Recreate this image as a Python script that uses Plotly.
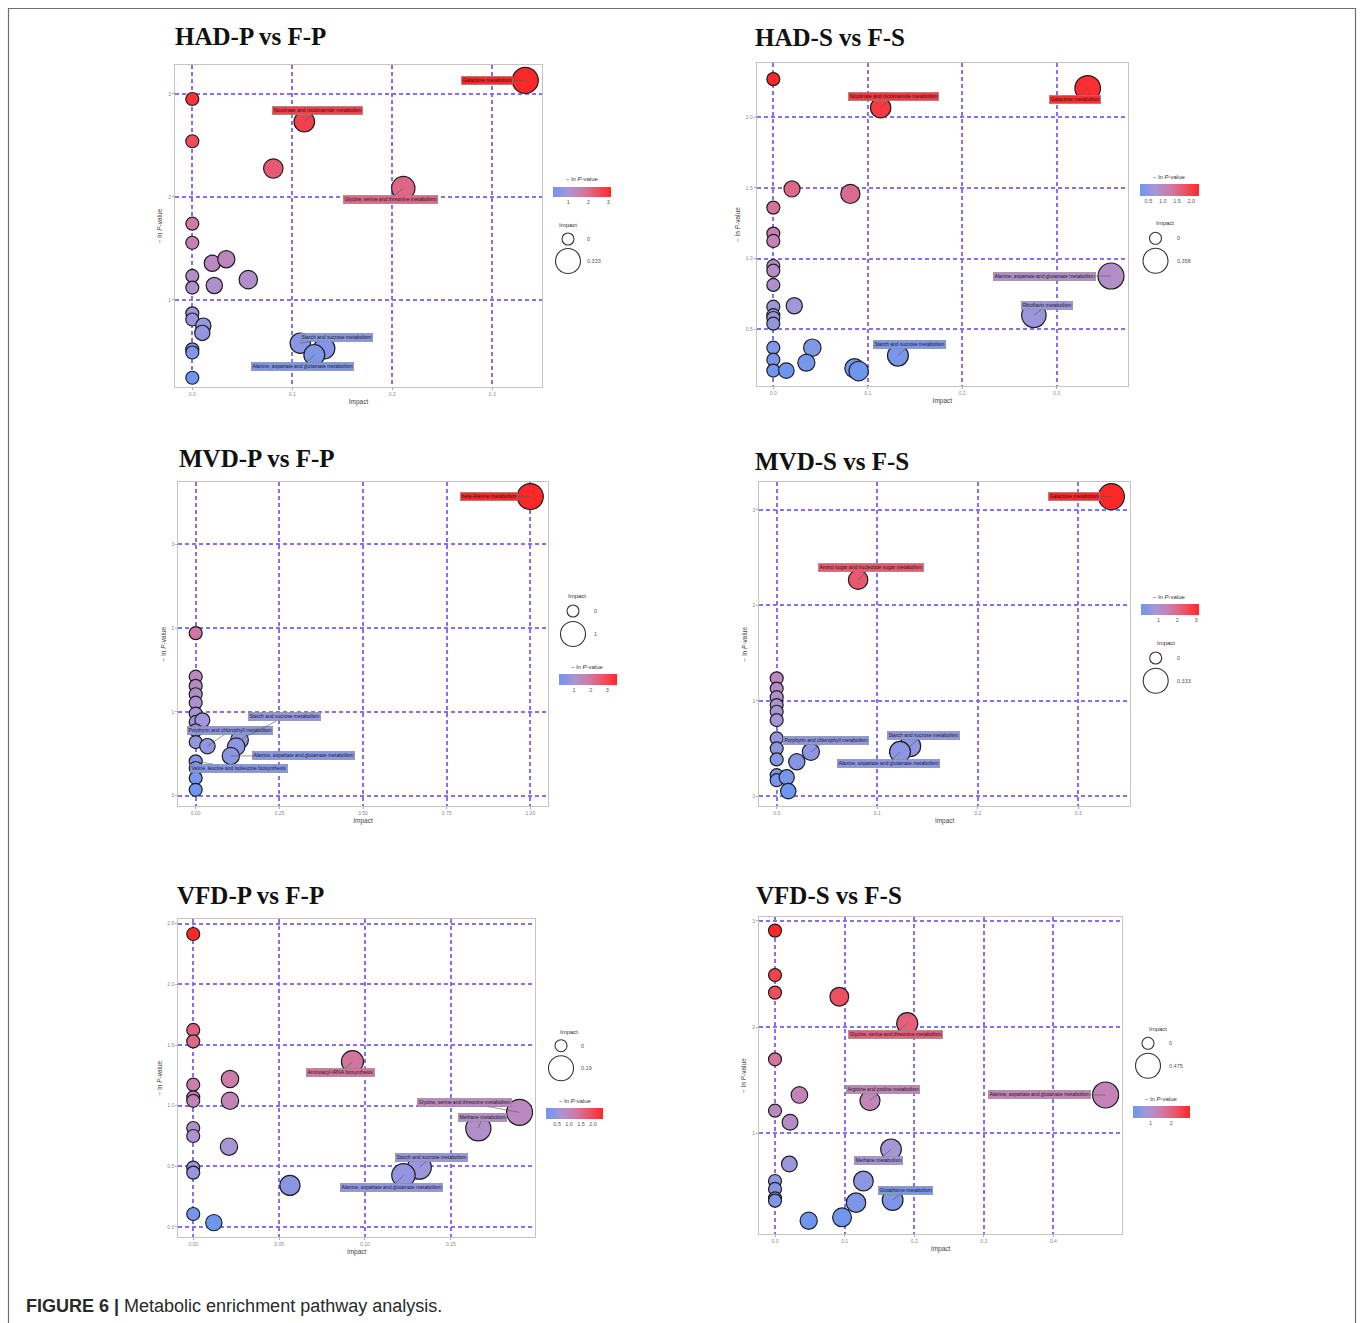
import plotly.graph_objects as go

W, H = 1360, 1323

# ---------------- data ----------------
# HAD-P vs F-P
had_p_impact = [0, 0, 0.081, 0.112, 0.333, 0.211, 0, 0, 0.020, 0.034, 0.056, 0, 0, 0.022,
                0, 0, 0.011, 0.010, 0, 0, 0, 0.108, 0.132, 0.122]
had_p_lnp = [2.95, 2.54, 2.275, 2.73, 3.13, 2.085, 1.74, 1.555, 1.356, 1.395, 1.197, 1.233, 1.12, 1.14,
             0.87, 0.81, 0.75, 0.68, 0.52, 0.49, 0.245, 0.58, 0.53, 0.466]
had_p_label = ['', '', '', 'Nicotinate and nicotinamide metabolism', 'Galactose metabolism',
               'Glycine, serine and threonine metabolism', '', '', '', '', '', '', '', '',
               '', '', '', '', '', '', '', 'Starch and sucrose metabolism', '',
               'Alanine, aspartate and glutamate metabolism']

# HAD-S vs F-S
had_s_impact = [0, 0.1137, 0.333, 0.0198, 0.0816, 0, 0, 0, 0, 0, 0, 0, 0, 0, 0, 0.0222, 0.3577,
                0.276, 0, 0, 0, 0.0138, 0.0413, 0.035, 0.086, 0.0904, 0.132]
had_s_lnp = [2.27, 2.068, 2.205, 1.493, 1.458, 1.361, 1.177, 1.125, 0.948, 0.915, 0.814, 0.66, 0.60,
             0.58, 0.54, 0.667, 0.877, 0.599, 0.37, 0.285, 0.208, 0.208, 0.37, 0.264, 0.224, 0.205, 0.314]
had_s_label = ['', 'Nicotinate and nicotinamide metabolism', 'Galactose metabolism', '', '', '', '', '',
               '', '', '', '', '', '', '', '', 'Alanine, aspartate and glutamate metabolism',
               'Riboflavin metabolism', '', '', '', '', '', '', '', '', 'Starch and sucrose metabolism']

# MVD-P vs F-P
mvd_p_impact = [1.0, 0, 0, 0, 0, 0, 0, 0, 0.02, 0, 0, 0.035, 0.131, 0.121, 0.105, 0, 0, 0, 0]
mvd_p_lnp = [3.57, 1.94, 1.42, 1.31, 1.21, 1.11, 0.98, 0.88, 0.90, 0.78, 0.64, 0.59, 0.665, 0.585,
             0.474, 0.41, 0.33, 0.21, 0.07]
mvd_p_label = ['beta-Alanine metabolism', '', '', '', '', '', '', '', '', '', '',
               'Porphyrin and chlorophyll metabolism', 'Starch and sucrose metabolism', '',
               'Alanine, aspartate and glutamate metabolism', 'Valine, leucine and isoleucine biosynthesis',
               '', '', '']

# MVD-S vs F-S
mvd_s_impact = [0.333, 0.081, 0, 0, 0, 0, 0, 0, 0, 0, 0, 0.034, 0.02, 0, 0, 0.01, 0.0115, 0.1327, 0.1227]
mvd_s_lnp = [3.14, 2.27, 1.237, 1.13, 1.04, 0.957, 0.887, 0.80, 0.608, 0.503, 0.388, 0.467, 0.363,
             0.223, 0.17, 0.2, 0.056, 0.527, 0.467]
mvd_s_label = ['Galactose metabolism', 'Amino sugar and nucleotide sugar metabolism', '', '', '', '', '',
               '', '', '', '', 'Porphyrin and chlorophyll metabolism', '', '', '', '', '',
               'Starch and sucrose metabolism', 'Alanine, aspartate and glutamate metabolism']

# VFD-P vs F-P
vfd_p_impact = [0, 0, 0, 0, 0, 0, 0, 0, 0, 0, 0, 0.012, 0.0214, 0.0214, 0.0208, 0.0563, 0.0927, 0.19,
                0.166, 0.1317, 0.1224]
vfd_p_lnp = [2.415, 1.624, 1.53, 1.173, 1.069, 1.04, 0.816, 0.75, 0.49, 0.448, 0.107, 0.036, 1.22, 1.04,
             0.662, 0.343, 1.363, 0.945, 0.813, 0.492, 0.426]
vfd_p_label = ['', '', '', '', '', '', '', '', '', '', '', '', '', '', '', '',
               'Aminoacyl-tRNA biosynthesis', 'Glycine, serine and threonine metabolism',
               'Methane metabolism', 'Starch and sucrose metabolism',
               'Alanine, aspartate and glutamate metabolism']

# VFD-S vs F-S
vfd_s_impact = [0, 0, 0, 0.0924, 0.19, 0, 0.035, 0.1365, 0.475, 0, 0.0216, 0.1667, 0.0206, 0, 0, 0, 0,
                0.127, 0.169, 0.1164, 0.0484, 0.0963]
vfd_s_lnp = [2.909, 2.49, 2.325, 2.287, 2.036, 1.697, 1.361, 1.308, 1.361, 1.213, 1.104, 0.849, 0.711,
             0.551, 0.476, 0.388, 0.366, 0.551, 0.372, 0.347, 0.177, 0.209]
vfd_s_label = ['', '', '', '', 'Glycine, serine and threonine metabolism', '', '',
               'Arginine and proline metabolism', 'Alanine, aspartate and glutamate metabolism', '', '',
               'Methane metabolism', '', '', '', '', '', '', 'Glutathione metabolism', '', '', '']

titles = ['HAD-P vs F-P', 'HAD-S vs F-S', 'MVD-P vs F-P', 'MVD-S vs F-S', 'VFD-P vs F-P', 'VFD-S vs F-S']

# ---------------- style ----------------
CS_STOPS = [0.0, 0.25, 0.5, 0.75, 1.0]
CS_RGB = [(110, 150, 238), (166, 150, 215), (205, 124, 170), (236, 84, 104), (255, 40, 40)]
COLORSCALE = [[s, 'rgb(%d,%d,%d)' % c] for s, c in zip(CS_STOPS, CS_RGB)]
GRID = 'rgb(130,112,246)'
SMIN, SRANGE = 13, 13


def color_at(t):
    t = min(max(t, 0.0), 1.0)
    for i in range(len(CS_STOPS) - 1):
        if t <= CS_STOPS[i + 1]:
            f = (t - CS_STOPS[i]) / (CS_STOPS[i + 1] - CS_STOPS[i])
            a, b = CS_RGB[i], CS_RGB[i + 1]
            return 'rgb(%d,%d,%d)' % tuple(round(a[k] + (b[k] - a[k]) * f) for k in range(3))
    return 'rgb(%d,%d,%d)' % CS_RGB[-1]


def fx(p):
    return p / W


def fy(p):
    return 1 - p / H


panels = [
    dict(imp=had_p_impact, val=had_p_lnp, lab=had_p_label, box=(175, 542, 65, 387),
         xr=[-0.0173, 0.3497], yr=[0.155, 3.28], xt=[0, 0.1, 0.2, 0.3], xf='.1f', yt=[1, 2, 3], yf='d',
         cb=(553, 187, 58, 10), cbt=[1, 2, 3], cbf='d', cbtitle=(582, 179),
         imp_title=(568, 225), small=(568, 239), big=(568, 261), txtdx=17, title=(173, 36),
         off={3: (13, -11), 4: (-38, 0), 5: (-13, 11), 21: (36, -6), 23: (-12, 12)}),
    dict(imp=had_s_impact, val=had_s_lnp, lab=had_s_label, box=(756.7, 1128, 63, 386),
         xr=[-0.0176, 0.3757], yr=[0.099, 2.384], xt=[0, 0.1, 0.2, 0.3], xf='.1f',
         yt=[0.5, 1.0, 1.5, 2.0], yf='.1f',
         cb=(1140, 184, 59, 11.5), cbt=[0.5, 1.0, 1.5, 2.0], cbf='.1f', cbtitle=(1169.5, 177),
         imp_title=(1165, 223), small=(1155.5, 238.3), big=(1155.5, 260.7), txtdx=19, title=(753, 38),
         off={1: (13, -11), 2: (-13, 11), 16: (-67, 0), 17: (13, -10), 26: (12, -11)}),
    dict(imp=mvd_p_impact, val=mvd_p_lnp, lab=mvd_p_label, box=(178.3, 547.7, 482.3, 805.7),
         xr=[-0.052, 1.052], yr=[-0.12, 3.74], xt=[0, 0.25, 0.5, 0.75, 1.0], xf='.2f', yt=[0, 1, 2, 3], yf='d',
         cb=(558.7, 674.3, 58, 11.4), cbt=[1, 2, 3], cbf='d', cbtitle=(587.7, 667),
         imp_title=(577, 596), small=(573, 611), big=(573, 634), txtdx=19, title=(177, 459),
         off={0: (-41, 0), 11: (23, -16), 12: (45, -23), 14: (73, 0), 15: (43, 7)}),
    dict(imp=mvd_s_impact, val=mvd_s_lnp, lab=mvd_s_label, box=(759.3, 1130, 482.3, 806),
         xr=[-0.0173, 0.3515], yr=[-0.10, 3.29], xt=[0, 0.1, 0.2, 0.3], xf='.1f', yt=[0, 1, 2, 3], yf='d',
         cb=(1140.7, 603.7, 58.3, 11.3), cbt=[1, 2, 3], cbf='d', cbtitle=(1169, 596.7),
         imp_title=(1165.7, 642.7), small=(1155.7, 658), big=(1155.7, 680.7), txtdx=19, title=(753, 461),
         off={0: (-37, 0), 1: (13, -12), 11: (15, -11), 17: (13, -11), 18: (-12, 12)}),
    dict(imp=vfd_p_impact, val=vfd_p_lnp, lab=vfd_p_label, box=(178.3, 535, 919.3, 1236.7),
         xr=[-0.0087, 0.199], yr=[-0.08, 2.536], xt=[0, 0.05, 0.1, 0.15], xf='.2f',
         yt=[0, 0.5, 1.0, 1.5, 2.0, 2.5], yf='.1f',
         cb=(546, 1108.3, 56.7, 11), cbt=[0.5, 1.0, 1.5, 2.0], cbf='.1f', cbtitle=(575, 1101),
         imp_title=(569, 1031.7), small=(561, 1045.7), big=(561, 1068.3), txtdx=18, title=(175, 895),
         off={16: (-12, 11), 17: (-55, -10), 18: (4, -11), 19: (12, -10), 20: (-12, 12)}),
    dict(imp=vfd_s_impact, val=vfd_s_lnp, lab=vfd_s_label, box=(759, 1122.3, 916.7, 1234.3),
         xr=[-0.023, 0.499], yr=[0.049, 3.04], xt=[0, 0.1, 0.2, 0.3, 0.4], xf='.1f', yt=[1, 2, 3], yf='d',
         cb=(1133.3, 1105.7, 57.4, 11.6), cbt=[1, 2], cbf='d', cbtitle=(1161.7, 1098.7),
         imp_title=(1157.7, 1029), small=(1148, 1043.3), big=(1148, 1065.7), txtdx=19, title=(754, 895),
         off={4: (-12, 11), 7: (13, -11), 8: (-66, 0), 11: (-13, 11), 18: (13, -10)}),
]

fig = go.Figure()
layout = {}
annotations = []
shapes = []

SMALL_FONT = dict(family='Liberation Sans, Arial', size=5.5, color='#555')

for i, P in enumerate(panels, start=1):
    sfx = '' if i == 1 else str(i)
    imp, val, lab = P['imp'], P['val'], P['lab']
    imax = max(imp)
    vmin, vmax = min(val), max(val)
    sizes = [SMIN + SRANGE * (v / imax) ** 0.5 for v in imp]
    fig.add_trace(go.Scatter(
        x=imp, y=val, mode='markers', xaxis='x' + sfx, yaxis='y' + sfx,
        marker=dict(size=sizes, color=val, coloraxis='coloraxis' + sfx, opacity=1,
                    line=dict(color='#1e1e1e', width=1.2)),
        showlegend=False, hoverinfo='skip'))

    l, r, t, b = P['box']
    axis_common = dict(showgrid=True, gridcolor=GRID, gridwidth=2, griddash='4px,3px', zeroline=False,
                       showline=True, mirror=True, linecolor='#c4c4c4', linewidth=1,
                       ticks='outside', ticklen=2, tickcolor='#aaaaaa',
                       tickfont=dict(family='Liberation Sans, Arial', size=5, color='#8a8a8a'))
    layout['xaxis' + sfx] = dict(domain=[fx(l), fx(r)], range=P['xr'], anchor='y' + sfx,
                                 tickvals=P['xt'], tickformat=P['xf'],
                                 title=dict(text='Impact', standoff=3,
                                            font=dict(family='Liberation Sans, Arial', size=6.5, color='#444')),
                                 **axis_common)
    layout['yaxis' + sfx] = dict(domain=[fy(b), fy(t)], range=P['yr'], anchor='x' + sfx,
                                 tickvals=P['yt'], tickformat=P['yf'],
                                 title=dict(text='− ln <i>P</i>-value', standoff=4,
                                            font=dict(family='Liberation Sans, Arial', size=6.5, color='#444')),
                                 **axis_common)

    cbx, cby, cbw, cbh = P['cb']
    layout['coloraxis' + sfx] = dict(
        colorscale=COLORSCALE, cmin=vmin, cmax=vmax,
        colorbar=dict(orientation='h', x=fx(cbx), xanchor='left', y=fy(cby), yanchor='top',
                      len=cbw, lenmode='pixels', thickness=cbh, thicknessmode='pixels',
                      xpad=0, ypad=0, outlinewidth=0, ticks='', tickvals=P['cbt'], tickformat=P['cbf'],
                      tickfont=dict(family='Liberation Sans, Arial', size=5.5, color='#555')))

    # colorbar title
    annotations.append(dict(x=fx(P['cbtitle'][0]), y=fy(P['cbtitle'][1]), xref='paper', yref='paper',
                            text='− ln <i>P</i>-value', showarrow=False, xanchor='center', yanchor='middle',
                            font=dict(family='Liberation Sans, Arial', size=6, color='#333')))
    # size legend
    annotations.append(dict(x=fx(P['imp_title'][0]), y=fy(P['imp_title'][1]), xref='paper', yref='paper',
                            text='Impact', showarrow=False, xanchor='center', yanchor='middle',
                            font=dict(family='Liberation Sans, Arial', size=6, color='#333')))
    for (cx, cy), d, txt in ((P['small'], 12, '0'), (P['big'], 25, format(imax, '.3g'))):
        rr = d / 2
        shapes.append(dict(type='circle', xref='paper', yref='paper',
                           x0=fx(cx - rr), x1=fx(cx + rr), y0=fy(cy + rr), y1=fy(cy - rr),
                           line=dict(color='#333', width=1.1), fillcolor='rgba(0,0,0,0)'))
        annotations.append(dict(x=fx(cx + P['txtdx']), y=fy(cy), xref='paper', yref='paper', text=txt,
                                showarrow=False, xanchor='left', yanchor='middle', font=SMALL_FONT))

    # panel title
    annotations.append(dict(x=fx(P['title'][0]), y=fy(P['title'][1]), xref='paper', yref='paper',
                            text='<b>%s</b>' % titles[i - 1], showarrow=False, xanchor='left', yanchor='middle',
                            font=dict(family='Liberation Serif, Times New Roman', size=25, color='#111')))

    # pathway labels
    for k, name in enumerate(lab):
        if not name:
            continue
        ax, ay = P['off'][k]
        annotations.append(dict(x=imp[k], y=val[k], xref='x' + sfx, yref='y' + sfx, text=name,
                                showarrow=True, arrowhead=0, arrowwidth=0.6, arrowcolor='#555',
                                ax=ax, ay=ay, axref='pixel', ayref='pixel', standoff=0,
                                bgcolor=color_at((val[k] - vmin) / (vmax - vmin)),
                                bordercolor='#8c8c8c', borderwidth=0.6, borderpad=0.8,
                                font=dict(family='Liberation Sans, Arial', size=5, color='#1a1a1a')))

# caption
annotations.append(dict(x=fx(24), y=fy(1306), xref='paper', yref='paper',
                        text='<b>FIGURE 6 |</b> Metabolic enrichment pathway analysis.',
                        showarrow=False, xanchor='left', yanchor='middle',
                        font=dict(family='Liberation Sans, Arial', size=18, color='#2a2a2a')))

# outer frame
shapes.append(dict(type='rect', xref='paper', yref='paper', x0=fx(8.5), x1=fx(1355.5),
                   y0=fy(1340), y1=fy(8.5), line=dict(color='#6e6e6e', width=1.2),
                   fillcolor='rgba(0,0,0,0)', layer='below'))

fig.update_layout(width=W, height=H, margin=dict(l=0, r=0, t=0, b=0),
                  paper_bgcolor='white', plot_bgcolor='white',
                  annotations=annotations, shapes=shapes, showlegend=False, **layout)

fig.write_html('out.html', config={'displayModeBar': False},
               post_script="document.body.style.margin='0px';document.body.style.overflow='hidden';")
